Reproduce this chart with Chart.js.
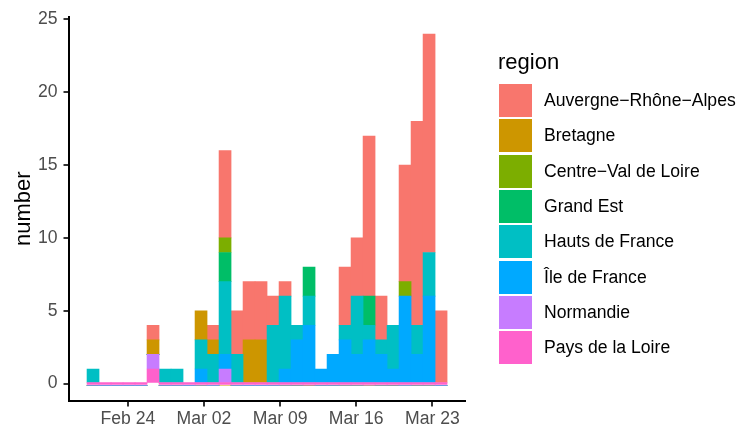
<!DOCTYPE html>
<html>
<head>
<meta charset="utf-8">
<script src="https://cdn.jsdelivr.net/npm/chart.js@4.4.1/dist/chart.umd.min.js"></script>
<style>
  body { margin: 0; background: #fff; font-family: "Liberation Sans", Arial, sans-serif; }
  #wrap { position: relative; width: 750px; height: 432px; }
  #legendTitle { position: absolute; left: 498px; top: 51px; font-size: 22px; line-height: 22px; color: #000; }
  #legend { position: absolute; left: 499px; top: 83px; }
  .row { height: 35.3px; display: flex; align-items: center; }
  .key { width: 33px; height: 33px; }
  .lbl { margin-left: 12px; font-size: 17.6px; color: #000; white-space: nowrap; }
</style>
</head>
<body>
<div id="wrap">
  <canvas id="regionChart" width="750" height="432"></canvas>
  <div id="legendTitle">region</div>
  <div id="legend"></div>
</div>
<script>
// histogram bins (30 bins), x measured in days from Feb 24 2020
var firstBin = -3.2;
var binWidth = 32 / 29;

var tickDays = [0, 7, 14, 21, 28];
var tickLabels = ["Feb 24", "Mar 02", "Mar 09", "Mar 16", "Mar 23"];
var yTicks = [0, 5, 10, 15, 20, 25];

var auvergne   = [0,0,0,0,0,1,0,0,0,0,1,6,3,4,4,2,1,0,0,0,0,4,4,11,3,0,8,14,15,5];
var bretagne   = [0,0,0,0,0,1,0,0,0,2,1,0,0,3,3,0,0,0,0,0,0,0,0,0,0,0,0,0,0,0];
var centre     = [0,0,0,0,0,0,0,0,0,0,0,1,0,0,0,0,0,0,0,0,0,0,0,0,0,0,1,0,0,0];
var grandEst   = [0,0,0,0,0,0,0,0,0,0,0,2,0,0,0,0,0,0,2,0,0,0,0,2,0,0,0,0,0,0];
var hauts      = [1,0,0,0,0,0,1,1,0,2,2,5,2,0,0,4,5,1,2,0,0,1,4,1,1,3,0,2,3,0];
var ileFrance  = [0,0,0,0,0,0,0,0,0,1,0,1,0,0,0,0,1,3,4,1,2,3,2,3,2,1,6,2,6,0];
var normandie  = [0,0,0,0,0,1,0,0,0,0,0,1,0,0,0,0,0,0,0,0,0,0,0,0,0,0,0,0,0,0];
var paysLoire  = [0,0,0,0,0,1,0,0,0,0,0,0,0,0,0,0,0,0,0,0,0,0,0,0,0,0,0,0,0,0];

var regions = ["Auvergne\u2212Rh\u00f4ne\u2212Alpes", "Bretagne", "Centre\u2212Val de Loire", "Grand Est",
               "Hauts de France", "\u00cele de France", "Normandie", "Pays de la Loire"];
var colors = ["#F8766D", "#CD9600", "#7CAE00", "#00BE67", "#00BFC4", "#00A9FF", "#C77CFF", "#FF61CC"];
var series = [auvergne, bretagne, centre, grandEst, hauts, ileFrance, normandie, paysLoire];

function toPoints(values) {
  return values.map(function (v, i) { return { x: firstBin + i * binWidth, y: v }; });
}

// ggplot stacks the first level on top, so build datasets bottom-up
var datasets = [];
for (var i = series.length - 1; i >= 0; i--) {
  datasets.push({
    label: regions[i],
    data: toPoints(series[i]),
    backgroundColor: colors[i],
    borderWidth: 0,
    barPercentage: 1,
    categoryPercentage: 1,
    minBarLength: i === series.length - 1 ? 2 : 0
  });
}

var tickFont = { family: "'Liberation Sans', Arial, sans-serif", size: 17.6 };

var ctx = document.getElementById("regionChart").getContext("2d");
var regionChart = new Chart(ctx, {
  type: "bar",
  data: { datasets: datasets },
  options: {
    responsive: false,
    animation: false,
    layout: { padding: { left: 0, right: 285, top: 12, bottom: 0 } },
    plugins: { legend: { display: false }, tooltip: { enabled: false } },
    scales: {
      x: {
        type: "linear",
        stacked: true,
        offset: false,
        min: -5.41,
        max: 31.0,
        afterBuildTicks: function (scale) {
          scale.ticks = tickDays.map(function (d) { return { value: d }; });
        },
        afterFit: function (scale) { scale.height = 31; },
        ticks: {
          autoSkip: false,
          maxRotation: 0,
          padding: 2,
          color: "#4D4D4D",
          font: tickFont,
          callback: function (value) { return tickLabels[tickDays.indexOf(value)]; }
        },
        grid: { offset: false, drawOnChartArea: false, drawTicks: true, tickLength: 5.5, color: "#333333", lineWidth: 2 },
        border: { display: true, color: "#000", width: 2 }
      },
      y: {
        stacked: true,
        min: -1.2,
        max: 25.2,
        afterBuildTicks: function (scale) {
          scale.ticks = yTicks.map(function (v) { return { value: v }; });
        },
        afterFit: function (scale) { scale.width = 69; },
        ticks: { padding: 6, color: "#4D4D4D", font: tickFont },
        grid: { drawOnChartArea: false, drawTicks: true, tickLength: 5.5, color: "#333333", lineWidth: 2 },
        border: { display: true, color: "#000", width: 2 },
        title: {
          display: true,
          text: "number",
          color: "#000",
          font: { family: "'Liberation Sans', Arial, sans-serif", size: 22 },
          padding: { top: 11, bottom: 0 }
        }
      }
    }
  }
});

// legend in ggplot order
var legend = document.getElementById("legend");
regions.forEach(function (name, i) {
  var row = document.createElement("div");
  row.className = "row";
  var key = document.createElement("div");
  key.className = "key";
  key.style.background = colors[i];
  var lbl = document.createElement("div");
  lbl.className = "lbl";
  lbl.textContent = name;
  row.appendChild(key);
  row.appendChild(lbl);
  legend.appendChild(row);
});
</script>
</body>
</html>
